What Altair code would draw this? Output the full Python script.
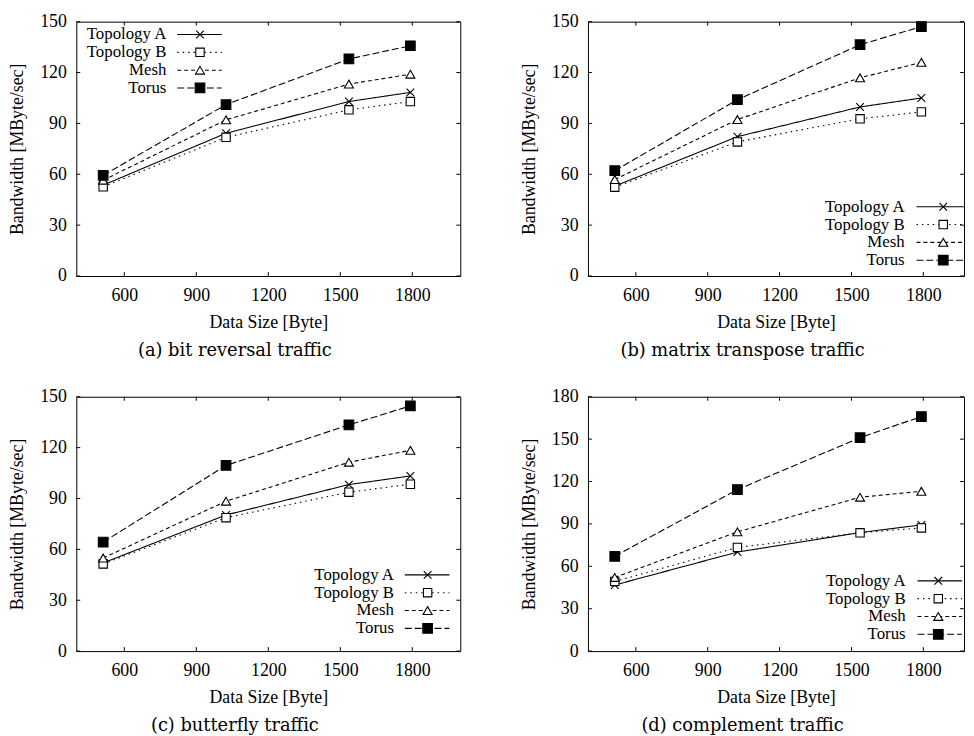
import altair as alt
import pandas as pd

series = ["Topology A", "Topology B", "Mesh", "Torus"]
data_size = [512, 1024, 1536, 1792]
x_ticks = [600, 900, 1200, 1500, 1800]

a_topA = [53.6, 84.2, 102.9, 108.3]
a_topB = [52.6, 81.8, 98.0, 102.9]
a_mesh = [56.5, 92.1, 113.2, 119.0]
a_torus = [59.4, 101.1, 128.0, 135.8]

b_topA = [53.0, 82.2, 99.7, 105.0]
b_topB = [52.4, 79.1, 92.7, 96.8]
b_mesh = [56.9, 92.3, 116.9, 126.0]
b_torus = [62.1, 104.0, 136.4, 147.1]

c_topA = [52.0, 80.3, 98.2, 103.3]
c_topB = [51.4, 78.7, 93.7, 98.4]
c_mesh = [54.9, 88.4, 111.4, 118.4]
c_torus = [64.3, 109.5, 133.4, 144.6]

d_topA = [46.8, 70.1, 83.9, 89.3]
d_topB = [49.3, 73.4, 83.7, 87.2]
d_mesh = [52.1, 84.4, 108.9, 113.1]
d_torus = [67.1, 114.3, 151.0, 166.0]

y_ticks_150 = [0, 30, 60, 90, 120, 150]
y_ticks_180 = [0, 30, 60, 90, 120, 150, 180]

FONT = "Liberation Serif"
CAP_FONT = "DejaVu Serif"
H = 257
FS = 18

dash_scale = alt.Scale(domain=series, range=[[1, 0], [1.5, 4], [4, 3], [7, 3]])
shape_scale = alt.Scale(domain=series, range=["M-1,-1L1,1M-1,1L1,-1", "square", "triangle-up", "square"])
fill_scale = alt.Scale(domain=series, range=["white", "white", "white", "black"])
size_scale = alt.Scale(domain=series, range=[60, 95, 65, 95])


def panel(vals, ydom, yticks, caption, leg, width, xmax):
    rows = []
    for s, v in zip(series, vals):
        for x, y in zip(data_size, v):
            rows.append({"series": s, "x": x, "y": y})
    df = pd.DataFrame(rows)
    xs = alt.Scale(domain=[400, xmax], nice=False, zero=False)
    ys = alt.Scale(domain=ydom, nice=False)

    xaxis = alt.Axis(values=x_ticks, format="d", ticks=False, domain=False, grid=False, labelPadding=11,
                     title="Data Size [Byte]", titlePadding=9, labelFlush=False)
    yaxis = alt.Axis(values=yticks, format="d", ticks=False, domain=False, grid=False, labelPadding=10,
                     title="Bandwidth [MByte/sec]", titlePadding=13, labelFlush=False)

    lines = alt.Chart(df).mark_line(color="black", strokeWidth=1.1).encode(
        x=alt.X("x:Q", scale=xs, axis=xaxis),
        y=alt.Y("y:Q", scale=ys, axis=yaxis),
        strokeDash=alt.StrokeDash("series:N", scale=dash_scale, legend=None),
        detail="series:N",
    )
    pts = alt.Chart(df).mark_point(filled=True, stroke="black", strokeWidth=1.1, opacity=1).encode(
        x="x:Q", y="y:Q",
        shape=alt.Shape("series:N", scale=shape_scale, legend=None),
        fill=alt.Fill("series:N", scale=fill_scale, legend=None),
        size=alt.Size("series:N", scale=size_scale, legend=None),
    )
    xt = pd.DataFrame({"x": x_ticks})
    yt = pd.DataFrame({"y": yticks})
    tb = alt.Chart(xt).mark_rule(color="black", strokeWidth=1).encode(
        x="x:Q", y=alt.value(H), y2=alt.value(H - 4))
    tt = alt.Chart(xt).mark_rule(color="black", strokeWidth=1).encode(
        x="x:Q", y=alt.value(0), y2=alt.value(4))
    tl = alt.Chart(yt).mark_rule(color="black", strokeWidth=1).encode(
        y="y:Q", x=alt.value(0), x2=alt.value(4))
    tr = alt.Chart(yt).mark_rule(color="black", strokeWidth=1).encode(
        y="y:Q", x=alt.value(width - 4), x2=alt.value(width))

    tr_x, l0, l1, mx, r0, sp = leg
    ld = pd.DataFrame({"series": series})
    off = alt.YOffset("series:N", scale=alt.Scale(type="point", domain=series, range=[0, 3 * sp], padding=0))
    ltext = alt.Chart(ld).mark_text(align="right", baseline="middle", font=FONT, fontSize=17, color="black").encode(
        x=alt.value(tr_x), y=alt.value(r0), yOffset=off, text="series:N")
    lrule = alt.Chart(ld).mark_rule(color="black", strokeWidth=1.1).encode(
        x=alt.value(l0), x2=alt.value(l1), y=alt.value(r0), yOffset=off,
        strokeDash=alt.StrokeDash("series:N", scale=dash_scale, legend=None))
    lpt = alt.Chart(ld).mark_point(filled=True, stroke="black", strokeWidth=1.1, opacity=1).encode(
        x=alt.value(mx), y=alt.value(r0), yOffset=off,
        shape=alt.Shape("series:N", scale=shape_scale, legend=None),
        fill=alt.Fill("series:N", scale=fill_scale, legend=None),
        size=alt.Size("series:N", scale=size_scale, legend=None))

    return alt.layer(lines, pts, tb, tt, tl, tr, lrule, lpt, ltext).properties(
        width=width, height=H,
        title=alt.TitleParams(caption, orient="bottom", anchor="middle", frame="bounds", font=CAP_FONT,
                              fontSize=18, fontWeight="normal", offset=11, color="black"),
    )


pa = panel([a_topA, a_topB, a_mesh, a_torus], [0, 150], y_ticks_150, "(a) bit reversal traffic",
           (91, 102, 147, 125, 13, 18), 388, 2000)
pb = panel([b_topA, b_topB, b_mesh, b_torus], [0, 150], y_ticks_150, "(b) matrix transpose traffic",
           (320, 332, 380, 359, 187, 17.5), 380, 1970)
pc = panel([c_topA, c_topB, c_mesh, c_torus], [0, 150], y_ticks_150, "(c) butterfly traffic",
           (321, 332, 377, 355, 180, 18), 388, 2000)
pd_ = panel([d_topA, d_topB, d_mesh, d_torus], [0, 180], y_ticks_180, "(d) complement traffic",
            (321, 333, 378, 354, 186, 18), 380, 1970)

chart = alt.vconcat(
    alt.hconcat(pa, pb, spacing=59),
    alt.hconcat(pc, pd_, spacing=59),
    spacing=26,
).properties(padding=0, background="white").configure_view(stroke="black", strokeWidth=1).configure_axis(
    labelFont=FONT, labelFontSize=FS, labelColor="black",
    titleFont=FONT, titleFontSize=FS, titleColor="black", titleFontWeight="normal",
)

chart.save("out.html", embed_options={"renderer": "svg", "actions": False})
